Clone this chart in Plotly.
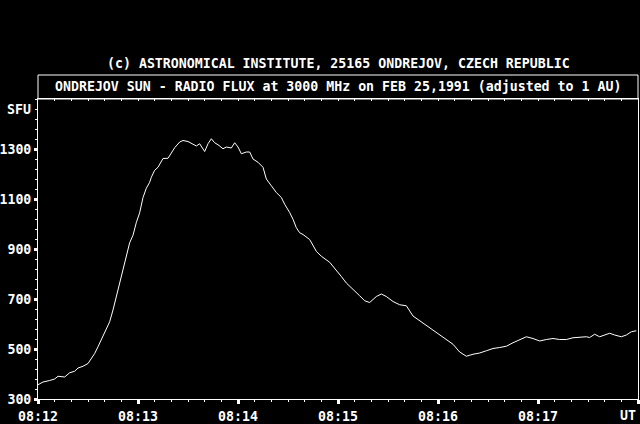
import pandas as pd
import plotly.graph_objects as go

# Seconds after 08:12:00 UT and flux (SFU)
t_sec = [0, 3, 7, 10, 12, 16, 19, 22, 24, 27, 30, 32, 34, 36, 38, 40, 43, 45, 47, 49,
         51, 53, 55, 57, 59, 61, 63, 65, 67, 68, 70, 72, 73, 75, 78, 80, 82, 85, 87, 90,
         93, 95, 97, 100, 102, 104, 106, 108, 111, 113, 116, 118, 120, 122, 125, 127, 129, 132, 135, 137,
         140, 143, 146, 148, 151, 153, 155, 157, 159, 163, 167, 170, 175, 179, 182, 185, 189, 193, 196, 199,
         203, 206, 209, 213, 217, 221, 225, 229, 233, 237, 241, 245, 249, 253, 257, 261, 265, 269, 273, 277,
         281, 285, 289, 293, 297, 301, 305, 309, 313, 317, 321, 325, 329, 331, 334, 337, 340, 343, 346, 350,
         353, 356, 359]
flux = [357, 368, 374, 380, 391, 388, 405, 411, 424, 431, 442, 462, 482, 509, 536, 563, 609, 656, 710, 764,
        817, 871, 925, 955, 1006, 1045, 1106, 1143, 1167, 1187, 1215, 1227, 1240, 1262, 1263, 1285, 1305, 1328, 1334, 1330,
        1321, 1312, 1321, 1290, 1321, 1341, 1325, 1317, 1301, 1308, 1304, 1325, 1308, 1281, 1288, 1288, 1260, 1247, 1227, 1180,
        1153, 1126, 1106, 1079, 1046, 1019, 985, 965, 958, 938, 891, 871, 847, 817, 790, 764, 740, 713, 693, 686,
        710, 720, 710, 690, 677, 673, 632, 613, 596, 576, 556, 536, 519, 488, 471, 479, 484, 493, 502, 506,
        511, 525, 536, 549, 542, 532, 538, 542, 538, 538, 545, 546, 549, 546, 559, 549, 556, 563, 556, 549,
        556, 569, 573]

minute_labels = ["08:12", "08:13", "08:14", "08:15", "08:16", "08:17", ""]
y_ticks = [300, 500, 700, 900, 1100, 1300]

title_top = "(c) ASTRONOMICAL INSTITUTE, 25165 ONDREJOV, CZECH REPUBLIC"
title_box = "ONDREJOV SUN - RADIO FLUX at 3000 MHz on FEB 25,1991 (adjusted to 1 AU)"

start = pd.Timestamp("1991-02-25 08:12:00")
times = [start + pd.Timedelta(seconds=s) for s in t_sec]
minute_vals = [start + pd.Timedelta(minutes=i) for i in range(7)]
x_range = [start, start + pd.Timedelta(minutes=6)]

FONT = dict(family="DejaVu Sans Mono", size=13.25, color="white", weight="bold")

fig = go.Figure()
fig.add_trace(go.Scatter(x=times, y=flux, mode="lines",
                         line=dict(color="white", width=1), showlegend=False,
                         hoverinfo="skip"))
fig.add_trace(go.Scatter(x=[], y=[], xaxis="x2", showlegend=False, hoverinfo="skip"))

fig.update_layout(
    width=640, height=424,
    margin=dict(l=38, r=2, t=99, b=25, autoexpand=False),
    paper_bgcolor="black", plot_bgcolor="black",
    font=FONT,
    xaxis=dict(type="date", range=x_range, tickmode="array",
               tickvals=minute_vals, ticktext=minute_labels,
               ticks="outside", ticklen=4, tickwidth=3, tickcolor="white",
               ticklabelstandoff=1, automargin=False,
               minor=dict(ticks="outside", ticklen=2, tickwidth=1, tickcolor="white",
                          dtick=10000, tick0=start, showgrid=False),
               showline=True, linecolor="white", linewidth=1, mirror=True,
               showgrid=False, zeroline=False, ticklabeloverflow="hide past div"),
    xaxis2=dict(type="date", range=x_range, overlaying="x", side="top", anchor="y",
                tickmode="linear", tick0=start, dtick=10000, automargin=False,
                ticks="inside", ticklen=2, tickwidth=1, tickcolor="white",
                showticklabels=False, showgrid=False, showline=False, zeroline=False),
    yaxis=dict(range=[300, 1500], tickmode="array", tickvals=y_ticks,
               ticktext=[str(v) for v in y_ticks], automargin=False,
               ticks="outside", ticklen=3, tickwidth=3, tickcolor="white",
               minor=dict(ticks="outside", ticklen=2, tickwidth=1, tickcolor="white",
                          dtick=40, tick0=300, showgrid=False),
               showline=True, linecolor="white", linewidth=1, mirror=True,
               showgrid=False, zeroline=False),
    shapes=[dict(type="rect", xref="paper", yref="paper", x0=0, x1=1, y0=1, y1=1.08,
                 line=dict(color="white", width=1))],
    annotations=[
        dict(text=title_top, xref="paper", yref="paper", x=0.5, y=1.117,
             xanchor="center", yanchor="middle", showarrow=False, font=FONT),
        dict(text=title_box, xref="paper", yref="paper", x=0.5, y=1.04,
             xanchor="center", yanchor="middle", showarrow=False, font=FONT),
        dict(text="SFU", xref="paper", yref="y", x=0, y=1460, xshift=-5,
             xanchor="right", yanchor="middle", showarrow=False, font=FONT),
        dict(text="UT", xref="paper", yref="paper", x=1, y=0, yshift=-16,
             xanchor="right", yanchor="middle", showarrow=False, font=FONT),
    ],
)

fig.write_html("out.html", config={"displayModeBar": False},
               post_script="document.body.style.margin='0px';"
                           "document.body.style.background='black';")
